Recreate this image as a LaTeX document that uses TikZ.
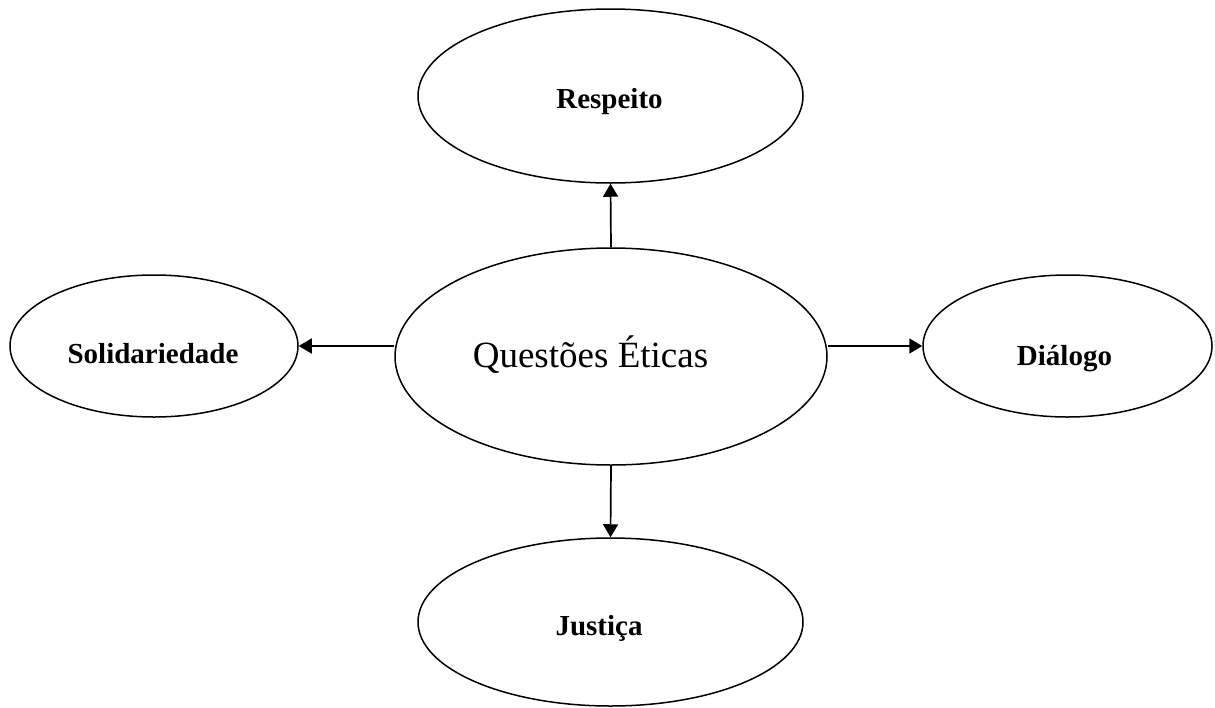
\documentclass[tikz,border=0pt]{standalone}
\usepackage{fontspec}
\setmainfont{Liberation Serif}
\usetikzlibrary{shapes.geometric,arrows.meta}
\tikzset{
  oval/.style={draw, ellipse, line width=1.5pt, inner sep=0pt},
  lbl/.style={anchor=base, inner sep=0pt, font=\bfseries\fontsize{29}{34}\selectfont},
  arr/.style={line width=1.7pt, -{Triangle[length=13pt,width=15pt]}}
}
\begin{document}
\begin{tikzpicture}[x=1pt,y=-1pt]
\useasboundingbox (0,0) rectangle (1215,707);
\node[oval, minimum width=432pt, minimum height=217pt] (q) at (611,356.5) {};
\node[oval, minimum width=385pt, minimum height=174pt] (r) at (610.5,96) {};
\node[oval, minimum width=385pt, minimum height=168pt] (j) at (610.5,622) {};
\node[oval, minimum width=288pt, minimum height=142pt] (s) at (154,346) {};
\node[oval, minimum width=289pt, minimum height=142pt] (d) at (1067.5,346) {};
\node[lbl, font=\fontsize{37}{44}\selectfont] (qt) at (590.5,367) {Questões Éticas};
\node[lbl] (rt) at (609.5,108) {Respeito};
\node[lbl] (jt) at (599,635) {Justiça};
\node[lbl] (st) at (153,363) {Solidariedade};
\node[lbl] (dt) at (1064.5,365) {Diálogo};
\draw[arr] (q.north) -- (r.south);
\draw[arr] (q.south) -- (j.north);
\draw[arr] (s.east -| q.west) -- (s.east);
\draw[arr] (d.west -| q.east) -- (d.west);
\end{tikzpicture}
\end{document}
